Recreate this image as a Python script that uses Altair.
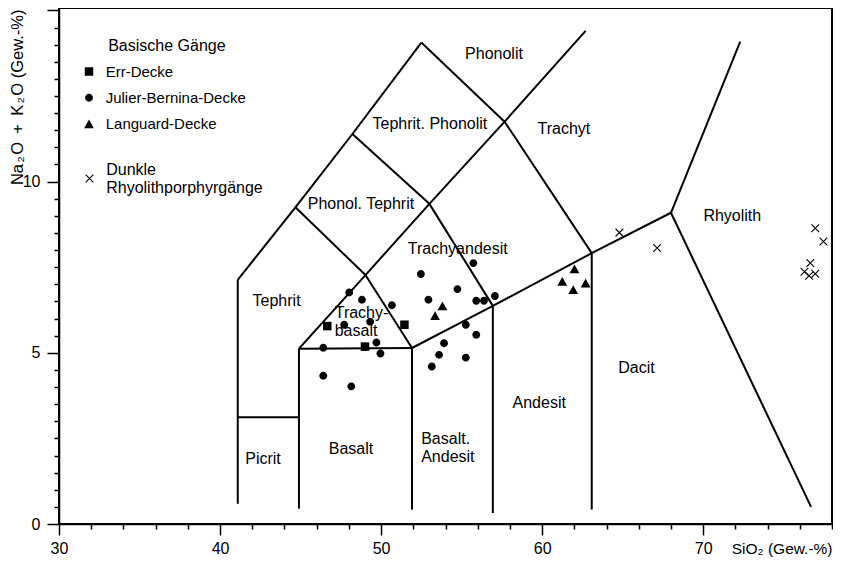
import altair as alt
import pandas as pd

# ---------------- data ----------------
err_sio2 = [46.66, 51.45, 49.0]
err_alk = [5.78, 5.82, 5.18]

jb_sio2 = [48.02, 48.81, 50.67, 47.71, 49.32, 49.71, 46.41, 49.96, 46.41, 48.15,
           55.73, 52.47, 54.74, 52.94, 55.91, 56.39, 57.07, 55.26, 55.91, 53.91,
           53.6, 55.26, 53.15]
jb_alk = [6.76, 6.55, 6.39, 5.82, 5.91, 5.30, 5.15, 4.98, 4.33, 4.02,
          7.62, 7.30, 6.86, 6.55, 6.52, 6.52, 6.66, 5.82, 5.53, 5.28,
          4.94, 4.86, 4.60]

lang_sio2 = [53.81, 53.35, 62.01, 61.25, 61.93, 62.7]
lang_alk = [6.37, 6.08, 7.45, 7.08, 6.84, 7.03]

rhy_sio2 = [64.8, 67.14, 76.96, 77.47, 76.65, 76.29, 76.58, 76.96]
rhy_alk = [8.51, 8.06, 8.64, 8.25, 7.62, 7.37, 7.25, 7.31]

basic_names = ["Err-Decke", "Julier-Bernina-Decke", "Languard-Decke"]
rhy_name = "Dunkle Rhyolithporphyrgänge"

# TAS field boundaries (SiO2, Na2O+K2O)
outer_line = [(41.1, 0.59), (41.1, 7.13), (44.68, 9.25), (48.22, 11.39), (52.5, 14.06),
              (57.67, 11.75), (63.08, 7.91), (63.08, 0.42)]
picrit_top = [(41.1, 3.12), (44.9, 3.12)]
basalt_box = [(44.9, 0.45), (44.9, 5.12), (51.92, 5.14), (51.92, 0.42)]
phonolit_trachyt = [(44.9, 5.12), (49.03, 7.27), (53.0, 9.35), (57.67, 11.75), (62.7, 14.4)]
lower_diag = [(44.68, 9.25), (49.03, 7.27), (51.92, 5.14), (56.94, 6.37), (63.08, 7.91),
              (68.0, 9.09), (72.3, 14.09)]
rhyolith_line = [(68.0, 9.09), (76.7, 0.5)]
middle_line = [(48.22, 11.39), (53.0, 9.35), (56.94, 6.37), (56.94, 0.32)]
boundaries = [outer_line, picrit_top, basalt_box, phonolit_trachyt, lower_diag,
              rhyolith_line, middle_line]

field_names = ["Phonolit", "Tephrit. Phonolit", "Trachyt", "Phonol. Tephrit",
               "Trachyandesit", "Tephrit", "Rhyolith", "Dacit", "Andesit",
               "Basalt", "Picrit"]
field_sio2 = [57.01, 53.03, 61.35, 48.75, 54.76, 43.51, 71.81, 65.86, 59.82, 48.13, 42.67]
field_alk = [13.73, 11.68, 11.54, 9.35, 8.04, 6.52, 9.0, 4.56, 3.54, 2.2, 1.89]

field2_names = ["Trachy-\nbasalt", "Basalt.\nAndesit"]
field2_sio2 = [47.12, 52.49]
field2_alk = [6.17, 2.49]

x_ticks = list(range(30, 79, 2))
y_ticks = [i * 0.5 for i in range(0, 31)]

# ---------------- tables ----------------
segs = []
for line in boundaries:
    for a, b in zip(line[:-1], line[1:]):
        segs.append({"x": a[0], "y": a[1], "x2": b[0], "y2": b[1]})
seg_df = pd.DataFrame(segs)

basic_df = pd.DataFrame({
    "series": ["Err-Decke"] * len(err_sio2) + ["Julier-Bernina-Decke"] * len(jb_sio2)
              + ["Languard-Decke"] * len(lang_sio2),
    "SiO2": err_sio2 + jb_sio2 + lang_sio2,
    "Alk": err_alk + jb_alk + lang_alk,
})
rhy_df = pd.DataFrame({"series": [rhy_name] * len(rhy_sio2), "SiO2": rhy_sio2, "Alk": rhy_alk})
field_df = pd.DataFrame({"name": field_names, "SiO2": field_sio2, "Alk": field_alk})
field2_df = pd.DataFrame({"name": field2_names, "SiO2": field2_sio2, "Alk": field2_alk})

FONT = "Liberation Sans"
W, H = 773, 516

xscale = alt.Scale(domain=[30, 78], nice=False, zero=False)
yscale = alt.Scale(domain=[0, 15.07], nice=False, zero=False)

xaxis = alt.Axis(
    values=x_ticks,
    labelExpr="datum.value % 10 === 0 ? datum.label : ''",
    tickSize={"condition": {"test": "datum.value % 10 === 0", "value": 11}, "value": 5},
    labelPadding=5.5,
    labelFlush=False,
    title="SiO₂ (Gew.-%)",
    titleAnchor="end",
    titleAlign="right",
    titleBaseline="alphabetic",
    titleX=W,
    titleY=29,
    titleFontSize=15.5,
)
yaxis = alt.Axis(
    values=y_ticks,
    labelExpr="datum.value % 5 === 0 && datum.value < 15 ? format(datum.value, 'd') : ''",
    tickSize={"condition": {"test": "datum.value % 5 === 0", "value": 12}, "value": 5},
    labelPadding=7,
    labelFlush=False,
    title="Na\u200a₂\u200aO\u2002+\u2002K\u200a₂\u200aO (Gew.-%)",
    titleAngle=270,
    titleAlign="right",
    titleBaseline="alphabetic",
    titleX=-37,
    titleY=1,
    titleFontSize=16.5,
)

rules = alt.Chart(seg_df).mark_rule(color="black", strokeWidth=2).encode(
    x=alt.X("x:Q", scale=xscale, axis=xaxis),
    y=alt.Y("y:Q", scale=yscale, axis=yaxis),
    x2="x2:Q",
    y2="y2:Q",
)

sq_path = "M-0.95,-0.95L0.95,-0.95L0.95,0.95L-0.95,0.95Z"
circ_path = "M0.88,0A0.88,0.88,0,1,1,-0.88,0A0.88,0.88,0,1,1,0.88,0Z"
tri_path = "M0,-1L1.1,0.95L-1.1,0.95Z"

legend_title = "\u200b" + "\u00a0" * 6 + "Basische Gänge"

basic = alt.Chart(basic_df).mark_point(filled=True, color="black", opacity=1, size=80).encode(
    x=alt.X("SiO2:Q", scale=xscale, axis=xaxis),
    y=alt.Y("Alk:Q", scale=yscale, axis=yaxis),
    shape=alt.Shape("series:N",
                    scale=alt.Scale(domain=basic_names, range=[sq_path, circ_path, tri_path]),
                    legend=alt.Legend(
                        title=legend_title,
                        orient="none", legendX=22.5, legendY=30,
                        padding=0, titleFontSize=16, titleFontWeight="normal",
                        titleColor="black", titlePadding=10, titleLimit=400,
                        labelFontSize=15, labelOffset=9.2, labelColor="black",
                        labelLimit=300, rowPadding=10.2, symbolSize=80,
                        symbolFillColor="black", symbolStrokeColor="black",
                        symbolStrokeWidth=0)),
)

xpath = "M-1,-1L1,1M-1,1L1,-1"
rhy = alt.Chart(rhy_df).mark_point(shape=xpath, filled=False, strokeWidth=1.1, size=60,
                                   opacity=1).encode(
    x=alt.X("SiO2:Q", scale=xscale, axis=xaxis),
    y=alt.Y("Alk:Q", scale=yscale, axis=yaxis),
    color=alt.Color("series:N", scale=alt.Scale(domain=[rhy_name], range=["black"]),
                    legend=alt.Legend(
                        title=None, orient="none", legendX=22.5, legendY=162.5,
                        padding=0, labelFontSize=16, labelOffset=8.7, labelColor="black",
                        labelLimit=400, labelExpr="split(datum.label, ' ')",
                        labelBaseline="line-bottom", symbolType=xpath,
                        symbolSize=60, symbolStrokeColor="black", symbolStrokeWidth=1.1)),
)

labels = alt.Chart(field_df).mark_text(fontSize=16, font=FONT, color="black",
                                       align="center", baseline="middle").encode(
    x=alt.X("SiO2:Q", scale=xscale, axis=xaxis),
    y=alt.Y("Alk:Q", scale=yscale, axis=yaxis),
    text="name:N",
)
labels2 = alt.Chart(field2_df).mark_text(fontSize=16, font=FONT, color="black",
                                         align="left", baseline="middle",
                                         lineBreak="\n", lineHeight=18).encode(
    x=alt.X("SiO2:Q", scale=xscale, axis=xaxis),
    y=alt.Y("Alk:Q", scale=yscale, axis=yaxis),
    text="name:N",
)

chart = alt.layer(rules, basic, rhy, labels, labels2).properties(
    width=W, height=H,
    padding={"left": 51, "top": 0, "right": 1, "bottom": 34},
    autosize=alt.AutoSizeParams(type="none"),
    background="white",
).configure_view(
    stroke="black", strokeWidth=2
).configure_axis(
    domainColor="black", domainWidth=1.5, tickColor="black", tickWidth=1.5,
    labelFont=FONT, labelFontSize=16, labelColor="black",
    titleFont=FONT, titleColor="black", titleFontWeight="normal",
    grid=False,
).configure_legend(
    labelFont=FONT, titleFont=FONT,
).configure_text(font=FONT)

chart.save("out.html", embed_options={"renderer": "svg", "actions": False})
